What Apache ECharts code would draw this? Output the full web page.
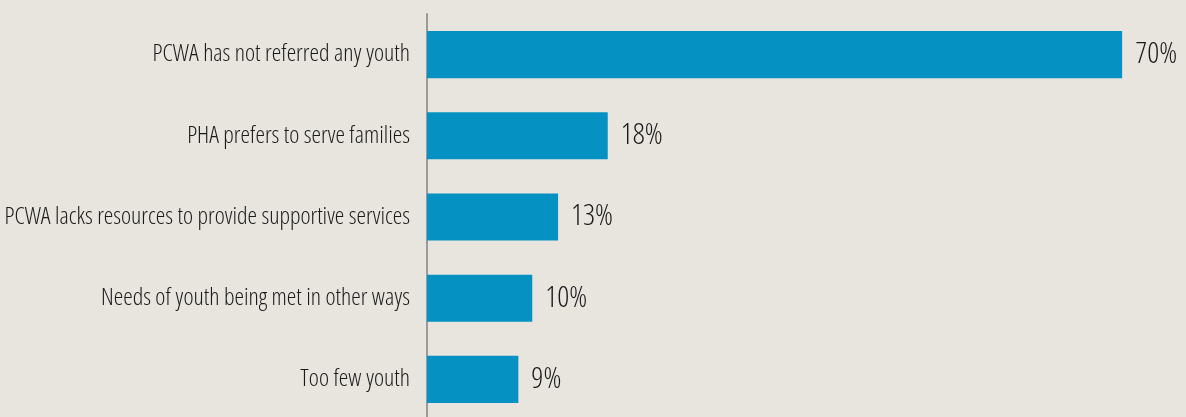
<!DOCTYPE html>
<html>
<head>
<meta charset="utf-8">
<script src="https://cdn.jsdelivr.net/npm/echarts@6/dist/echarts.min.js"></script>
<style>
html,body{margin:0;padding:0;background:#e8e5df;}
#chart{width:1186px;height:417px;}
</style>
</head>
<body>
<div id="chart"></div>
<script>
const categories = [
  "PCWA has not referred any youth",
  "PHA prefers to serve families",
  "PCWA lacks resources to provide supportive services",
  "Needs of youth being met in other ways",
  "Too few youth"
];
const values = [70, 18.2, 13.2, 10.6, 9.2];
const valueLabels = ["70%", "18%", "13%", "10%", "9%"];

const FONT = "'Open Sans', sans-serif";
const chart = echarts.init(document.getElementById('chart'), null, {renderer: 'canvas'});
chart.setOption({
  backgroundColor: '#e8e5df',
  animation: false,
  grid: {left: 427, right: 14.2, top: 14, bottom: -3, containLabel: false, outerBoundsMode: 'none'},
  xAxis: {
    type: 'value', min: 0, max: 75,
    show: false
  },
  yAxis: {
    type: 'category',
    data: categories,
    inverse: true,
    offset: 2,
    axisLine: {show: true, lineStyle: {color: '#9a9a9a', width: 2}},
    axisTick: {show: false},
    splitLine: {show: false},
    axisLabel: {
      margin: 15,
      color: '#1a1a1a',
      fontFamily: FONT,
      fontWeight: '350 condensed',
      fontSize: 24,
      padding: [0, 0, 6, 0]
    }
  },
  series: [{
    type: 'bar',
    data: values,
    barWidth: '58%',
    itemStyle: {color: '#0592c3'},
    label: {
      show: true,
      position: 'right',
      distance: 13,
      color: '#1a1a1a',
      fontFamily: FONT,
      fontWeight: '350 condensed',
      fontSize: 29.5,
      padding: [4, 0, 0, 0],
      formatter: p => valueLabels[p.dataIndex]
    }
  }]
});
</script>
</body>
</html>
